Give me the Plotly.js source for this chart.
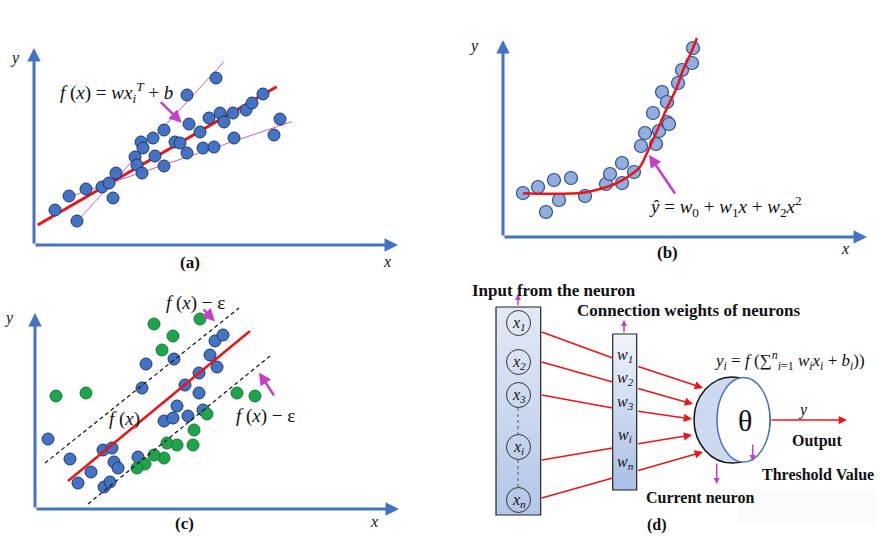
<!DOCTYPE html>
<html><head><meta charset="utf-8">
<script src="https://cdn.plot.ly/plotly-3.0.1.min.js"></script>
<style>html,body{margin:0;padding:0;background:#fff}#chart{width:896px;height:536px}</style>
</head><body><div id="chart"></div>
<script>
// ---------- Panel (a): linear regression ----------
const aX = [21,35,43,52,68,75,79,82,101,103,108,107,109,119,121,130,130,141,146,153,153,155,166,169,175,180,182,186,190,199,200,212,218,229,240,246];
const aY = [35,49,24,56,58,62,47,72,88,80,72,103,97,107,89,115,79,103,102,150,92,121,113,97,127,98,167,132,123,132,107,135,142,151,110,126];
const aFitX = [3.7,242.7], aFitY = [20,158.3];
const aUpX = [46,190], aUpY = [27,183.3];
const aLowX = [32.7,257.7], aLowY = [47.3,123.3];

// ---------- Panel (b): polynomial regression ----------
const bX = [20,35,43,51,56,68,82,103,107,119,119,131,138,142,150,153,156,159,164,164,166,175,179,189,190];
const bY = [44,50,25,57,37,59,41,53,63,74,54,65,91,104,124,93,106,145,135,115,113,154,167,174,189];
const bCurveX = [20,47,80,97,114,130,137,144,154,164,174,180,187,194];
const bCurveY = [43.7,43.2,44.3,48,54,63.7,70.3,84,106,129,150,167,182,199];

// ---------- Panel (c): support vector regression ----------
const cBlueX = [13,35,43,56,68,69,75,77,79,83,103,107,111,129,138,139,142,150,153,164,164,168,175,180,182,188];
const cBlueY = [70,50,26,37,59,22,27,61,47,41,52,121,145,88,91,150,103,124,93,136,116,99,154,168,142,174];
const cGreenX = [21,51,119,127,138,165,202,220,172,159,158,142,132,129,119,110,102];
const cGreenY = [113,116,185,159,173,190,116,113,95,79,64,64,66,51,54,45,41];
const cFitX = [33,215], cFitY = [28,178];
const cUpX = [10,204], cUpY = [46,201];
const cLowX = [53,235], cLowY = [5,153];

// ---------- Panel (d): neuron model ----------
const inputLabels = ['x<sub>1</sub>','x<sub>2</sub>','x<sub>3</sub>','x<sub>i</sub>','x<sub>n</sub>'];
const weightLabels = ['w<sub>1</sub>','w<sub>2</sub>','w<sub>3</sub>','w<sub>i</sub>','w<sub>n</sub>'];

// ---------- layout geometry (pixel positions) ----------
const inY = [323,362,395,447,500];
const wY = [355,378,402,435,462];
const lineStartY = [332,362,395,460,498];
const lineEndY = [358,382,408,448,478];
const arrTailY = [366,388,411,444,471];
const arrHead = [[703,388],[693,404],[692,419],[692,435],[703,452]];

const BLUE_AX = '#4472C4';
const RED = '#E8161B';
const MAG = '#C43FC6';
const SERIF = 'Liberation Serif, Times New Roman, serif';
const S = '\u00A0';

const traces = [];
// (a)
traces.push({x:aUpX,y:aUpY,mode:'lines',line:{color:'#C560C8',width:1},xaxis:'x',yaxis:'y',hoverinfo:'skip'});
traces.push({x:aLowX,y:aLowY,mode:'lines',line:{color:'#C560C8',width:1},xaxis:'x',yaxis:'y',hoverinfo:'skip'});
traces.push({x:aFitX,y:aFitY,mode:'lines',line:{color:RED,width:3},xaxis:'x',yaxis:'y',hoverinfo:'skip'});
traces.push({x:aX,y:aY,mode:'markers',marker:{size:12,color:'#4472C4',line:{color:'#1F3864',width:1}},xaxis:'x',yaxis:'y',cliponaxis:false});
// (b)
traces.push({x:bX,y:bY,mode:'markers',marker:{size:13,color:'#93AEDD',line:{color:'#2F4F8F',width:1.2}},xaxis:'x2',yaxis:'y2',cliponaxis:false});
traces.push({x:bCurveX,y:bCurveY,mode:'lines',line:{color:RED,width:2.5,shape:'spline'},xaxis:'x2',yaxis:'y2',hoverinfo:'skip'});
// (c)
traces.push({x:cBlueX,y:cBlueY,mode:'markers',marker:{size:12,color:'#4472C4',line:{color:'#1F3864',width:1}},xaxis:'x3',yaxis:'y3',cliponaxis:false});
traces.push({x:cGreenX,y:cGreenY,mode:'markers',marker:{size:12,color:'#1FA34C',line:{color:'#137A36',width:1}},xaxis:'x3',yaxis:'y3',cliponaxis:false});
traces.push({x:cFitX,y:cFitY,mode:'lines',line:{color:RED,width:2.5},xaxis:'x3',yaxis:'y3',hoverinfo:'skip'});
traces.push({x:cUpX,y:cUpY,mode:'lines',line:{color:'#111',width:1.2,dash:'4px,3px'},xaxis:'x3',yaxis:'y3',hoverinfo:'skip'});
traces.push({x:cLowX,y:cLowY,mode:'lines',line:{color:'#111',width:1.2,dash:'4px,3px'},xaxis:'x3',yaxis:'y3',hoverinfo:'skip'});
// (d) boxes
traces.push({x:[496,540.7,540.7,496,496],y:[307,307,515,515,307],mode:'lines',fill:'toself',
  fillgradient:{type:'vertical',start:307,stop:515,colorscale:[[0,'#E3EAF6'],[1,'#B3C6E7']]},
  line:{color:'#222',width:1.2},xaxis:'x4',yaxis:'y4',hoverinfo:'skip'});
traces.push({x:[612.7,636.7,636.7,612.7,612.7],y:[334,334,490,490,334],mode:'lines',fill:'toself',
  fillgradient:{type:'vertical',start:334,stop:490,colorscale:[[0,'#F0F4FB'],[1,'#A8BEE3']]},
  line:{color:'#222',width:1.2},xaxis:'x4',yaxis:'y4',hoverinfo:'skip'});
// (d) red connection lines
const rlx=[], rly=[];
for (let i=0;i<5;i++){ rlx.push(541.7,612.7,null); rly.push(lineStartY[i],lineEndY[i],null); }
traces.push({x:rlx,y:rly,mode:'lines',line:{color:RED,width:1.5},xaxis:'x4',yaxis:'y4',hoverinfo:'skip'});
// dotted links
traces.push({x:[518,518,null,518,518],y:[408,434,null,460,487],mode:'lines',line:{color:'#555',width:1,dash:'dot'},xaxis:'x4',yaxis:'y4',hoverinfo:'skip'});

const ann = [];
function T(text,x,y,size,opt){ return Object.assign({xref:'x4',yref:'y4',x:x,y:y,text:text,showarrow:false,
  font:{family:SERIF,size:size,color:'#111'},xanchor:'center',yanchor:'middle'},opt||{}); }
function A(x0,y0,x1,y1,color,w,xr,yr,hs){ return {xref:xr,yref:yr,axref:xr,ayref:yr,x:x1,y:y1,ax:x0,ay:y0,text:'',
  showarrow:true,arrowhead:2,arrowsize:hs||1,arrowwidth:w,arrowcolor:color,standoff:0,startstandoff:0}; }

// axis arrows
ann.push(A(0,0,0,197,BLUE_AX,3,'x','y',0.9), A(0,0,364,0,BLUE_AX,3,'x','y',0.9));
ann.push(A(0,0,0,197,BLUE_AX,3,'x2','y2',0.9), A(0,0,364,0,BLUE_AX,3,'x2','y2',0.9));
ann.push(A(0,0,0,196,BLUE_AX,3,'x3','y3',0.9), A(0,0,364,0,BLUE_AX,3,'x3','y3',0.9));
// magenta arrows
ann.push(A(125.3,144.3,147.7,122.3,MAG,2.5,'x','y'));
ann.push(A(173,42,146,82,MAG,2.5,'x2','y2'));
ann.push(A(167,201,180,187.6,MAG,2.5,'x3','y3'));
ann.push(A(240,112,224,136.6,MAG,2.5,'x3','y3'));

// axis labels and panel labels
ann.push(T('<i>y</i>',15,58,16), T('<i>x</i>',387,261,16), T('<b>(a)</b>',190,262,17));
ann.push(T('<i>y</i>',474,46,16), T('<i>x</i>',845,248,16), T('<b>(b)</b>',667,252,17));
ann.push(T('<i>y</i>',9,318,16), T('<i>x</i>',374,521,16), T('<b>(c)</b>',184,523,17));
ann.push(T('<b>(d)</b>',657,525,16));
// formulas
ann.push(T('<i>f</i>'+S+'(<i>x</i>)'+S+'='+S+'<i>wx</i><sub><i>i</i></sub><sup><i>T</i></sup>'+S+'+'+S+'<i>b</i>',116,92,19));
ann.push(T('<i>ŷ</i>'+S+'='+S+'<i>w</i><sub>0</sub>'+S+'+'+S+'<i>w</i><sub>1</sub><i>x</i>'+S+'+'+S+'<i>w</i><sub>2</sub><i>x</i><sup>2</sup>',725,206,19));
ann.push(T('<i>f</i>'+S+'(<i>x</i>)'+S+'−'+S+'ε',195,303,19));
ann.push(T('<i>f</i>'+S+'(<i>x</i>)',124,419,19));
ann.push(T('<i>f</i>'+S+'(<i>x</i>)'+S+'−'+S+'ε',265,416,19));

// panel (d) texts
for (let i=0;i<5;i++){
  ann.push(T('<i>'+inputLabels[i]+'</i>',518.5,inY[i],16));
  ann.push(T('<i>'+weightLabels[i]+'</i>',625,wY[i],16));
  ann.push(A(636.7,arrTailY[i],arrHead[i][0],arrHead[i][1],RED,1.5,'x4','y4',1.1));
}
ann.push(A(518,307,518,294,MAG,1.5,'x4','y4',0.8), T('<b>Input from the neuron</b>',554,290,17));
ann.push(A(624,334,624,320,MAG,1.5,'x4','y4',0.8), T('<b>Connection weights of neurons</b>',688,310,17));
ann.push(T('<i>y<sub>i</sub></i>'+S+'='+S+'<i>f</i>'+S+'(∑<sup><i>n</i></sup><sub><i>i</i>=1</sub>'+S+'<i>w<sub>i</sub>x<sub>i</sub></i>'+S+'+'+S+'<i>b<sub>i</sub></i>))',789,360,17));
ann.push(T('θ',745,420,30));
ann.push(A(770,420,847,420,RED,1.5,'x4','y4',1.1), T('<i>y</i>',803,410,16), T('<b>Output</b>',817,441,16));
ann.push(A(752.7,443,752.7,461,MAG,1.5,'x4','y4',0.8), T('<b>Threshold Value</b>',818,474,16));
ann.push(A(716.7,462,716.7,484,MAG,1.5,'x4','y4',0.8), T('<b>Current neuron</b>',644,497,16,{xanchor:'left'}));

const shapes = [];
for (let i=0;i<5;i++){
  shapes.push({type:'circle',xref:'x4',yref:'y4',x0:506.5,x1:530.5,y0:inY[i]-12.5,y1:inY[i]+12.5,line:{color:'#333',width:1},fillcolor:'rgba(0,0,0,0)'});
}
shapes.push({type:'circle',xref:'x4',yref:'y4',x0:694,x1:770,y0:377,y1:463,line:{color:'#111',width:1.5},fillcolor:'#CCD9EF'});
shapes.push({type:'circle',xref:'x4',yref:'y4',x0:717,x1:770,y0:377.5,y1:462,line:{color:'#4472C4',width:1.5},fillcolor:'#FFFFFF'});
shapes.push({type:'rect',xref:'x4',yref:'y4',x0:738,x1:877,y0:491,y1:523,line:{width:0},fillcolor:'#FAFAFA',layer:'below'});

const hid = {visible:false,showgrid:false,zeroline:false,fixedrange:true};
const layout = {
  width:896,height:536,margin:{l:0,r:0,t:0,b:0},paper_bgcolor:'#fff',plot_bgcolor:'rgba(0,0,0,0)',
  showlegend:false,
  xaxis:Object.assign({domain:[34/896,398/896],range:[0,364],anchor:'y'},hid),
  yaxis:Object.assign({domain:[1-245/536,1-48/536],range:[0,197],anchor:'x'},hid),
  xaxis2:Object.assign({domain:[503/896,867/896],range:[0,364],anchor:'y2'},hid),
  yaxis2:Object.assign({domain:[1-237/536,1-37/536],range:[0,200],anchor:'x2'},hid),
  xaxis3:Object.assign({domain:[35/896,399/896],range:[0,364],anchor:'y3'},hid),
  yaxis3:Object.assign({domain:[1-509/536,1-305/536],range:[0,204],anchor:'x3'},hid),
  xaxis4:Object.assign({domain:[0,1],range:[0,896],anchor:'y4'},hid),
  yaxis4:Object.assign({domain:[0,1],range:[536,0],anchor:'x4'},hid),
  annotations:ann,shapes:shapes
};
Plotly.newPlot('chart',traces,layout,{staticPlot:true,displayModeBar:false});
</script></body></html>
